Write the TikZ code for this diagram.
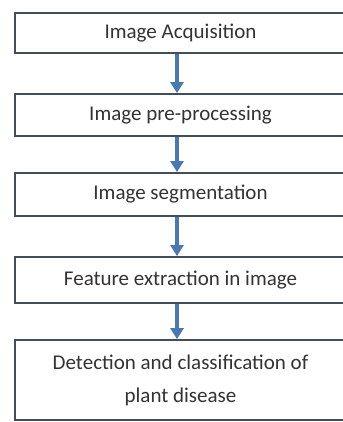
\documentclass[tikz,border=0pt]{standalone}
\usepackage{fontspec}
\setmainfont{Carlito}
\usetikzlibrary{arrows.meta}
\definecolor{boxline}{HTML}{434E5A}
\definecolor{arrblue}{HTML}{4A78B5}
\definecolor{txt}{HTML}{333333}
\tikzset{
  stepbox/.style={draw=boxline, line width=1.8pt, fill=white, minimum width=331pt, inner sep=0pt, align=center, text=txt, font=\fontsize{21}{33}\selectfont},
  flowarrow/.style={draw=arrblue, line width=3.5pt, -{Triangle[width=13pt,length=11pt]}}
}
\begin{document}
\begin{tikzpicture}[x=1pt,y=1pt]
\useasboundingbox (0,0) rectangle (342,422);
\node[stepbox, minimum height=40pt] (b1) at (180.5,389) {Image Acquisition};
\node[stepbox, minimum height=42pt] (b2) at (180.5,307) {Image pre-processing};
\node[stepbox, minimum height=43pt] (b3) at (180.5,227.5) {Image segmentation};
\node[stepbox, minimum height=46pt] (b4) at (180.5,142) {Feature extraction in image};
\node[stepbox, minimum height=80pt] (b5) at (180.5,42) {Detection and classification of\\plant disease};
\draw[flowarrow] ([xshift=-3.5pt]b1.south) -- ([xshift=-3.5pt]b2.north);
\draw[flowarrow] ([xshift=-3.5pt]b2.south) -- ([xshift=-3.5pt]b3.north);
\draw[flowarrow] ([xshift=-3.5pt]b3.south) -- ([xshift=-3.5pt]b4.north);
\draw[flowarrow] ([xshift=-3.5pt]b4.south) -- ([xshift=-3.5pt]b5.north);
\end{tikzpicture}
\end{document}
